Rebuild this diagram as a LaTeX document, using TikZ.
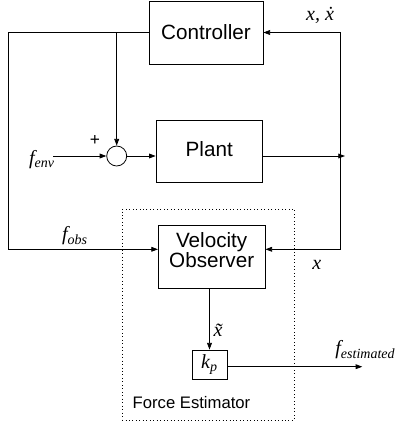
\documentclass[tikz,border=0pt]{standalone}
\usepackage{fontspec}
\setmainfont{Liberation Sans}
\newfontfamily\tmfont{Liberation Serif}
\usetikzlibrary{arrows.meta,positioning}
\newcommand{\mvar}[2]{{\tmfont\itshape #1\textsubscript{#2}}}
\begin{document}
\begin{tikzpicture}[x=0.75pt,y=-0.75pt, line width=0.6pt, every node/.style={inner sep=0pt},
  box/.style={draw,align=center,font=\fontsize{15.5}{15.5}\selectfont},
  lbl/.style={font=\fontsize{15}{17}\selectfont\tmfont\itshape},
  sumnode/.style={draw,circle,minimum size=15pt},
  arr/.style={-{Triangle[length=5pt,width=3.6pt]}}]
\useasboundingbox (0,0) rectangle (403,425);
% blocks
\node[box,minimum width=85.5pt,minimum height=47.25pt] (ctrl) at (206,32.5) {Controller};
\node[box,minimum width=79.7pt,minimum height=46.5pt] (plant) at (209.2,151.7) {\raisebox{3.5pt}{Plant}};
\node[sumnode] (sum) at (116.7,156) {};
\node[draw,dotted,minimum width=129.2pt,minimum height=158.3pt] (est) at (208.2,314.5) {};
\node[box,minimum width=80pt,minimum height=47pt] (obs) at (211.7,257) {Velocity\\Observer\\[-5pt]};
\node[box,minimum width=26.25pt,minimum height=21.75pt,font=\fontsize{15}{15}\selectfont\tmfont\itshape] (kp) at (209.5,364.5) {k\textsubscript{p}};
\node[font=\fontsize{12.5}{14}\selectfont] (estlbl) at (191.5,403) {Force Estimator};
% corner points
\coordinate (tl) at (8,32.5);
\coordinate (bl) at (8,249.3);
\coordinate (tr) at (340.7,32.5);
\coordinate (br) at (340.7,249.3);
\coordinate (mr) at (345,156);
\coordinate (fin) at (53,156);
\coordinate (br1) at (116.7,32.5);
\coordinate (fout) at (362.3,366.7);
% signals
\draw (ctrl.west) -- (tl) -- (bl);
\draw[arr] (bl) -- (obs.west |- bl);
\draw[arr] (br1) -- (sum.north);
\draw[arr] (fin) -- (sum.west);
\draw[arr] (sum.east) -- (plant.west |- sum);
\draw[arr] (plant.east |- sum) -- (mr);
\draw[arr] (br) -- (tr) -- (ctrl.east);
\draw[arr] (br) -- (obs.east |- br);
\draw[arr] (obs.south -| kp) -- (kp.north);
\draw[arr] (kp.east |- fout) -- (fout);
% labels
\node[lbl] (xlbl) at (320,15) {x, \.{x}};
\node[lbl] (fenv) at (42,160) {\mvar{f}{env}};
\node[font=\fontsize{13}{13}\selectfont] (plus) at (95,140) {+};
\node[lbl] (fobs) at (75,236) {\mvar{f}{obs}};
\node[lbl] (xobs) at (316.7,265) {x};
\node[lbl] (xtil) at (218,330) {\~{x}};
\node[lbl,anchor=west] (fest) at (335,350) {\mvar{f}{estimated}};
\end{tikzpicture}
\end{document}
